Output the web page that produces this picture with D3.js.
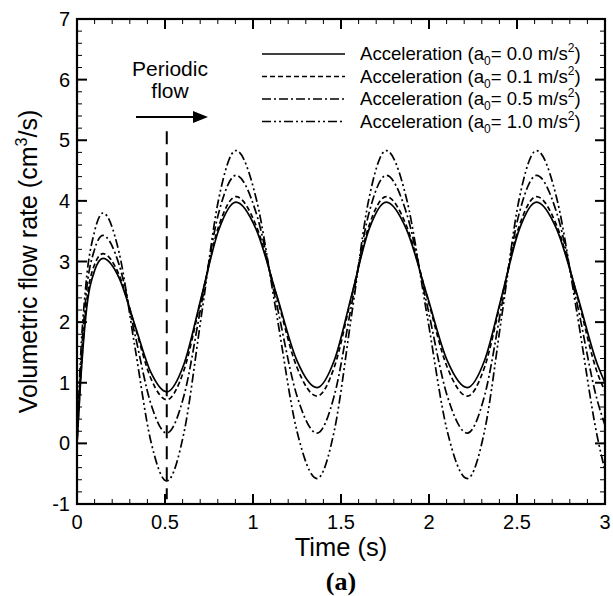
<!DOCTYPE html>
<html><head><meta charset="utf-8">
<script src="https://cdn.jsdelivr.net/npm/d3@7"></script>
<style>body{margin:0;background:#fff}svg{display:block}text{font-family:"Liberation Sans",Arial,sans-serif;fill:#000}</style>
</head><body><svg id="c" width="613" height="596"></svg>
<script>
const times = [0, 0.02, 0.05, 0.1, 0.148, 0.239, 0.329, 0.42, 0.51, 0.608, 0.707, 0.805, 0.903, 1.018, 1.134, 1.249, 1.364, 1.462, 1.561, 1.659, 1.757, 1.872, 1.988, 2.103, 2.218, 2.316, 2.415, 2.513, 2.611, 2.726, 2.842, 2.957, 3.0];
const flow00 = [0, 1.0, 2.1, 2.85, 3.05, 2.73, 1.95, 1.17, 0.85, 1.31, 2.42, 3.52, 3.98, 3.53, 2.45, 1.37, 0.92, 1.37, 2.45, 3.53, 3.98, 3.53, 2.45, 1.37, 0.92, 1.37, 2.45, 3.53, 3.98, 3.53, 2.45, 1.30, 1.00];
const flow01 = [0, 1.05, 2.2, 2.95, 3.13, 2.78, 1.93, 1.07, 0.72, 1.21, 2.40, 3.58, 4.07, 3.59, 2.43, 1.26, 0.78, 1.26, 2.43, 3.59, 4.07, 3.59, 2.43, 1.26, 0.78, 1.26, 2.43, 3.59, 4.07, 3.59, 2.43, 1.16, 0.86];
const flow05 = [0, 1.2, 2.4, 3.2, 3.43, 2.95, 1.80, 0.65, 0.17, 0.79, 2.30, 3.80, 4.42, 3.80, 2.30, 0.79, 0.17, 0.79, 2.30, 3.80, 4.42, 3.80, 2.30, 0.79, 0.17, 0.79, 2.30, 3.80, 4.42, 3.80, 2.30, 0.70, 0.30];
const flow10 = [0, 1.4, 2.6, 3.5, 3.80, 3.15, 1.59, 0.03, -0.62, 0.18, 2.11, 4.03, 4.83, 4.04, 2.13, 0.21, -0.58, 0.21, 2.13, 4.04, 4.83, 4.04, 2.13, 0.21, -0.58, 0.21, 2.13, 4.04, 4.83, 4.04, 2.13, 0.10, -0.45];
const seriesNames = ["0.0", "0.1", "0.5", "1.0"];
const xTicks = [0, 0.5, 1, 1.5, 2, 2.5, 3];
const xTickLabels = ["0", "0.5", "1", "1.5", "2", "2.5", "3"];
const yTicks = [-1, 0, 1, 2, 3, 4, 5, 6, 7];
const markerTime = 0.51;

const svg = d3.select("#c");
const L = 77, R = 605, T = 19, B = 504;
const x = d3.scaleLinear().domain([0, 3]).range([L, R]);
const y = d3.scaleLinear().domain([-1, 7]).range([B, T]);

const dashes = [null, "5,3", "9,3,2,3", "9,3,2,3,2,3"];
const allSeries = [flow00, flow01, flow05, flow10];

svg.append("clipPath").attr("id", "clip").append("rect").attr("x", L).attr("y", T).attr("width", R - L).attr("height", B - T);

const line = d3.line().x(d => x(d[0])).y(d => y(d[1])).curve(d3.curveMonotoneX);
const g = svg.append("g").attr("clip-path", "url(#clip)");
allSeries.forEach((vals, i) => {
  g.append("path").datum(times.map((t, k) => [t, vals[k]]))
    .attr("d", line).attr("fill", "none").attr("stroke", "#000")
    .attr("stroke-width", 1.7).attr("stroke-dasharray", dashes[i]);
});

// vertical dashed marker
svg.append("line").attr("x1", x(markerTime)).attr("x2", x(markerTime))
  .attr("y1", y(5.15)).attr("y2", y(-0.92)).attr("stroke", "#000")
  .attr("stroke-width", 2).attr("stroke-dasharray", "13,8");

// arrow
svg.append("line").attr("x1", 136).attr("x2", 195).attr("y1", 117).attr("y2", 117).attr("stroke", "#000").attr("stroke-width", 2);
svg.append("path").attr("d", "M193,111 L208,117 L193,123 Z").attr("fill", "#000");
svg.append("text").attr("x", 170).attr("y", 76).attr("text-anchor", "middle").attr("font-size", 21).text("Periodic");
svg.append("text").attr("x", 170).attr("y", 98).attr("text-anchor", "middle").attr("font-size", 21).text("flow");

// axes with inward ticks
const ax = svg.append("g");
const xMinor = d3.range(0, 3.0001, 0.1);
const yMinor = d3.range(-1, 7.0001, 0.2);
xMinor.forEach(v => {
  const isMajor = Math.abs(v * 2 - Math.round(v * 2)) < 1e-6;
  const len = isMajor ? 10 : 5;
  ax.append("line").attr("x1", x(v)).attr("x2", x(v)).attr("y1", B).attr("y2", B - len).attr("stroke", "#000").attr("stroke-width", isMajor ? 2 : 1);
  ax.append("line").attr("x1", x(v)).attr("x2", x(v)).attr("y1", T).attr("y2", T + len).attr("stroke", "#000").attr("stroke-width", isMajor ? 2 : 1);
});
yMinor.forEach(v => {
  const isMajor = Math.abs(v - Math.round(v)) < 1e-6;
  const len = isMajor ? 10 : 5;
  ax.append("line").attr("x1", L).attr("x2", L + len).attr("y1", y(v)).attr("y2", y(v)).attr("stroke", "#000").attr("stroke-width", isMajor ? 2 : 1);
  ax.append("line").attr("x1", R).attr("x2", R - len).attr("y1", y(v)).attr("y2", y(v)).attr("stroke", "#000").attr("stroke-width", isMajor ? 2 : 1);
});
ax.append("rect").attr("x", L).attr("y", T).attr("width", R - L).attr("height", B - T).attr("fill", "none").attr("stroke", "#000").attr("stroke-width", 2.2);

xTicks.forEach((v, i) => {
  svg.append("text").attr("x", x(v)).attr("y", B + 25).attr("text-anchor", "middle").attr("font-size", 20).text(xTickLabels[i]);
});
yTicks.forEach(v => {
  svg.append("text").attr("x", L - 7).attr("y", y(v) + 7).attr("text-anchor", "end").attr("font-size", 20).text(String(v));
});

svg.append("text").attr("x", (L + R) / 2).attr("y", 556).attr("text-anchor", "middle").attr("font-size", 25.5).text("Time (s)");
svg.append("text").attr("x", (L + R) / 2).attr("y", 590).attr("text-anchor", "middle").attr("font-size", 26)
  .attr("font-weight", "bold").style("font-family", "'Liberation Serif','Times New Roman',serif").text("(a)");

const yl = svg.append("text").attr("transform", `translate(37,${(T + B) / 2}) rotate(-90)`).attr("text-anchor", "middle").attr("font-size", 25);
yl.append("tspan").text("Volumetric flow rate (cm");
yl.append("tspan").attr("font-size", 16).attr("dy", -10).text("3");
yl.append("tspan").attr("dy", 10).text("/s)");

// legend
seriesNames.forEach((nm, i) => {
  const yy = 54 + i * 22.5;
  svg.append("line").attr("x1", 262).attr("x2", 345).attr("y1", yy).attr("y2", yy).attr("stroke", "#000").attr("stroke-width", 1.7).attr("stroke-dasharray", dashes[i]);
  const t = svg.append("text").attr("x", 360).attr("y", yy + 6).attr("font-size", 18.6);
  t.append("tspan").text("Acceleration (a");
  t.append("tspan").attr("font-size", 12).attr("dy", 5).text("0");
  t.append("tspan").attr("dy", -5).text("= " + nm + " m/s");
  t.append("tspan").attr("font-size", 12).attr("dy", -8).text("2");
  t.append("tspan").attr("dy", 8).text(")");
});
</script></body></html>
